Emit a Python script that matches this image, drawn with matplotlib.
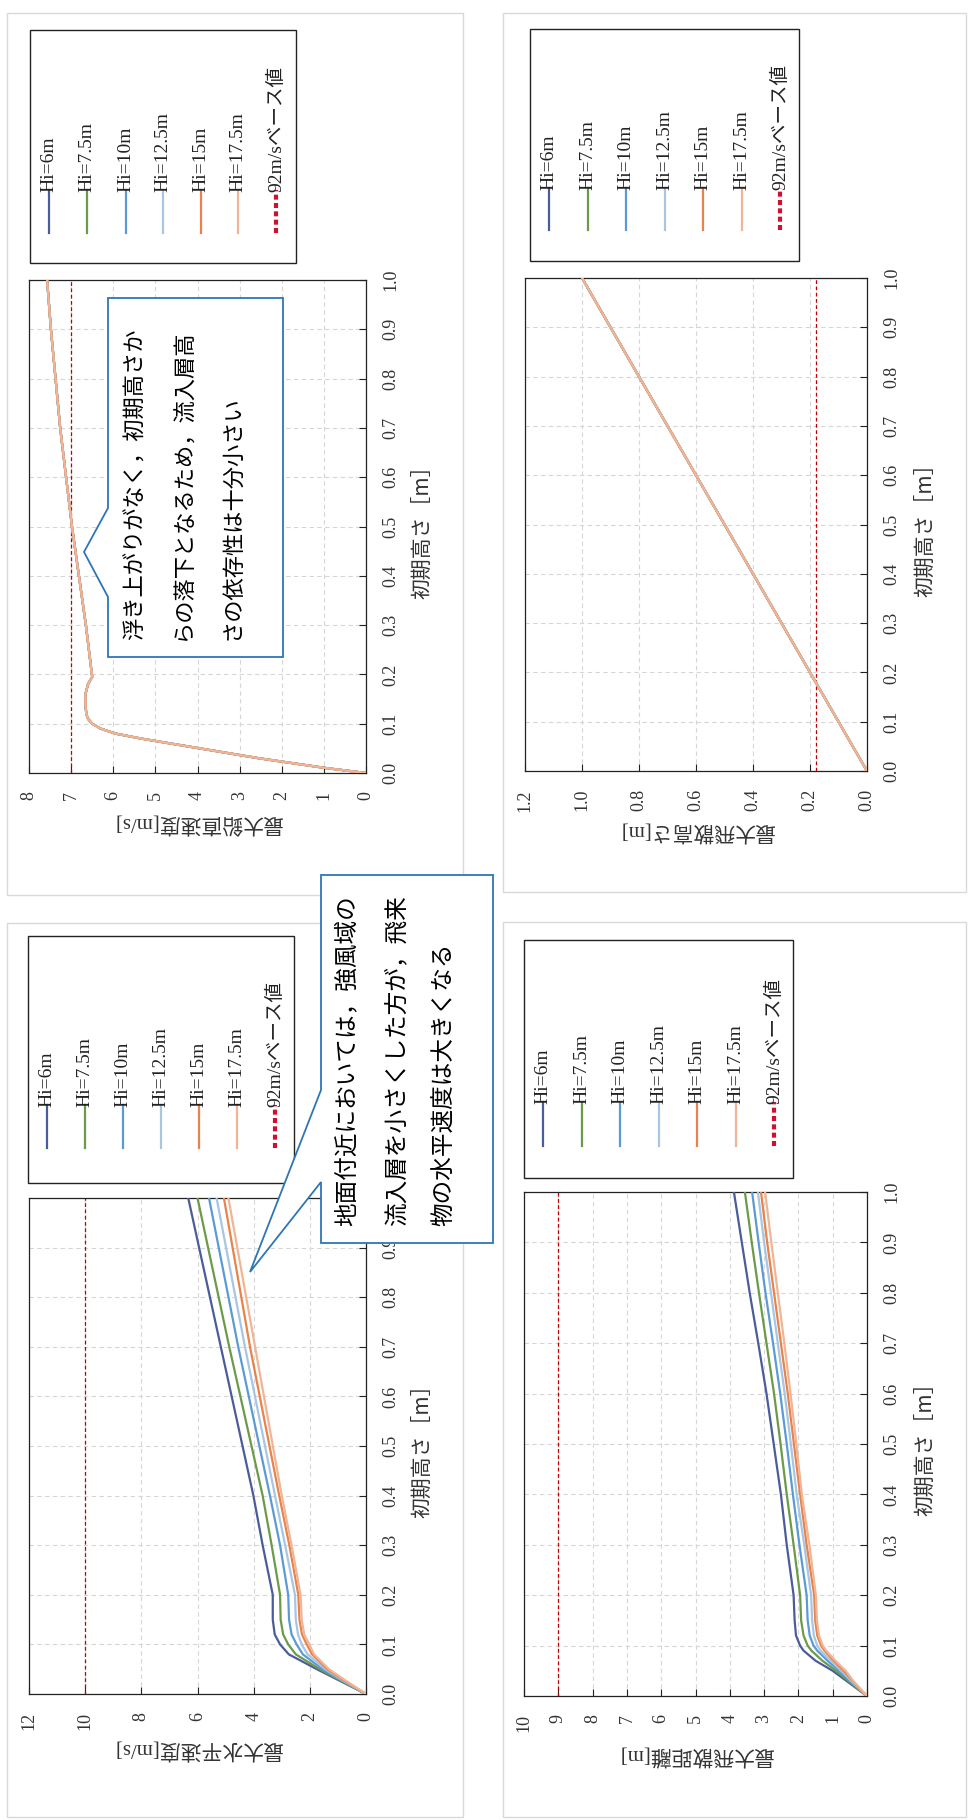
import matplotlib
matplotlib.use('Agg')
import matplotlib.pyplot as plt
from matplotlib.patches import Rectangle, Polygon
from matplotlib.lines import Line2D

W, H, DPI = 971, 1820, 100

# ---------------- data ----------------
series_labels = ['Hi=6m', 'Hi=7.5m', 'Hi=10m', 'Hi=12.5m', 'Hi=15m', 'Hi=17.5m']
base_label = '92m/sベース値'
x_label = '初期高さ［m］'

# 最大鉛直速度 (all Hi coincide)
h_vert = [0, 0.01, 0.02, 0.03, 0.04, 0.05, 0.06, 0.07, 0.08, 0.09, 0.10, 0.11,
          0.12, 0.14, 0.16, 0.18, 0.195, 0.30, 0.50, 0.70, 0.90, 1.00]
v_vert = [0, 0.95, 1.75, 2.55, 3.25, 3.95, 4.65, 5.35, 5.95, 6.30, 6.50, 6.60,
          6.64, 6.66, 6.66, 6.60, 6.50, 6.65, 6.98, 7.26, 7.48, 7.57]
base_vert = 7.0

# 最大水平速度
h_horz = [0, 0.03, 0.05, 0.08, 0.10, 0.12, 0.15, 0.20, 0.30, 0.40, 0.70, 1.00]
v_horz_6 = [0, 1.05, 1.75, 2.75, 3.06, 3.25, 3.32, 3.32, 3.68, 4.01, 5.17, 6.33]
v_horz_75 = [0, 1.00, 1.65, 2.50, 2.77, 2.95, 3.04, 3.06, 3.36, 3.68, 4.87, 6.00]
v_horz_10 = [0, 0.95, 1.55, 2.25, 2.47, 2.65, 2.74, 2.77, 3.06, 3.42, 4.55, 5.59]
v_horz_125 = [0, 0.90, 1.45, 2.08, 2.29, 2.42, 2.50, 2.53, 2.88, 3.24, 4.31, 5.32]
v_horz_15 = [0, 0.85, 1.38, 1.92, 2.11, 2.28, 2.37, 2.41, 2.73, 3.09, 4.13, 5.06]
v_horz_175 = [0, 0.80, 1.32, 1.85, 2.02, 2.20, 2.29, 2.33, 2.65, 3.00, 3.95, 4.90]
base_horz = 10.0

# 最大飛散高さ (all Hi coincide)
h_high = [0, 0.5, 1.0]
v_high = [0, 0.5, 1.0]
base_high = 0.18

# 最大飛散距離
h_dist = [0, 0.03, 0.05, 0.07, 0.09, 0.10, 0.12, 0.15, 0.20, 0.30, 0.40, 0.50,
          0.60, 0.70, 0.80, 0.90, 1.00]
v_dist_6 = [0, 0.60, 1.00, 1.50, 1.85, 1.95, 2.07, 2.11, 2.14, 2.34, 2.51, 2.72,
            2.93, 3.17, 3.42, 3.65, 3.88]
v_dist_75 = [0, 0.55, 0.90, 1.30, 1.62, 1.73, 1.85, 1.92, 1.95, 2.14, 2.34, 2.52,
             2.71, 2.93, 3.15, 3.36, 3.56]
v_dist_10 = [0, 0.50, 0.82, 1.15, 1.45, 1.56, 1.67, 1.73, 1.76, 1.97, 2.16, 2.34,
             2.53, 2.74, 2.96, 3.16, 3.35]
v_dist_125 = [0, 0.46, 0.75, 1.05, 1.35, 1.45, 1.55, 1.60, 1.63, 1.83, 2.05, 2.22,
              2.40, 2.60, 2.80, 3.00, 3.18]
v_dist_15 = [0, 0.42, 0.68, 0.97, 1.24, 1.34, 1.45, 1.51, 1.54, 1.76, 1.95, 2.13,
             2.31, 2.51, 2.71, 2.91, 3.09]
v_dist_175 = [0, 0.40, 0.62, 0.92, 1.19, 1.29, 1.40, 1.46, 1.49, 1.68, 1.90, 2.06,
              2.23, 2.41, 2.60, 2.79, 2.97]
base_dist = 9.0

height_ticks = [0.0, 0.1, 0.2, 0.3, 0.4, 0.5, 0.6, 0.7, 0.8, 0.9, 1.0]
vert_ticks = [0, 1, 2, 3, 4, 5, 6, 7, 8]
horz_ticks = [0, 2, 4, 6, 8, 10, 12]
high_ticks = [0.0, 0.2, 0.4, 0.6, 0.8, 1.0, 1.2]
dist_ticks = [0, 1, 2, 3, 4, 5, 6, 7, 8, 9, 10]

note_vert = ['浮き上がりがなく，初期高さか', 'らの落下となるため，流入層高', 'さの依存性は十分小さい']
note_horz = ['地面付近においては，強風域の', '流入層を小さくした方が，飛来', '物の水平速度は大きくなる']

# ---------------- style ----------------
series_colors = ['#4A5C9A', '#6B9A48', '#5B9BD5', '#A8C6E4', '#E8844A', '#EFB596']
base_color = '#C00000'
callout_color = '#2E75B6'
serif = ['Liberation Serif', 'Noto Sans CJK JP']
cjk = ['Noto Sans CJK JP', 'DejaVu Sans']
txt_color = '#333333'

fig = plt.figure(figsize=(W / DPI, H / DPI), dpi=DPI)
fig.patch.set_facecolor('white')


def fx(x):
    return x / W


def fy(y):
    return 1 - y / H


def frame(x0, y0, x1, y1, ec, lw, fc='none', z=1):
    fig.add_artist(Rectangle((fx(x0), fy(y1)), (x1 - x0) / W, (y1 - y0) / H,
                             transform=fig.transFigure, facecolor=fc,
                             edgecolor=ec, linewidth=lw, zorder=z))


def panel(rect, series, vmax, vticks, vfmt, base, vlabel, vlabel_y, hlabel_x,
          legend_box, legend_xs, legend_y, outer, hidden_hticks=()):
    frame(*outer, ec='#d9d9d9', lw=1.0)
    x0, y0, x1, y1 = rect
    ax = fig.add_axes([fx(x0), fy(y1), (x1 - x0) / W, (y1 - y0) / H])
    for (hs, vs), col in zip(series, series_colors):
        ax.plot(vs, hs, color=col, lw=1.6, solid_capstyle='round', zorder=3)
    ax.plot([base, base], [0, 1], color=base_color, lw=0.9,
            linestyle=(0, (3, 2)), zorder=2)
    ax.set_xlim(vmax, 0)
    ax.set_ylim(0, 1)
    ax.set_xticks(vticks)
    ax.set_xticklabels([vfmt.format(v) for v in vticks], rotation=90,
                       ha='center', va='top', fontfamily=serif, fontsize=13,
                       color=txt_color)
    ax.yaxis.tick_right()
    ax.set_yticks(height_ticks)
    ax.set_yticklabels(['' if v in hidden_hticks else '{:.1f}'.format(v)
                        for v in height_ticks], rotation=90,
                       ha='left', va='center', fontfamily=serif, fontsize=13,
                       color=txt_color)
    ax.tick_params(axis='x', direction='in', length=5, pad=13, top=False,
                   bottom=True, color='#222222')
    ax.tick_params(axis='y', direction='in', length=5, pad=12, left=False,
                   right=True, color='#222222')
    ax.grid(True, color='#d6d6d6', linestyle=(0, (4, 3)), linewidth=0.8)
    ax.set_axisbelow(True)
    for s in ax.spines.values():
        s.set_color('#222222')
        s.set_linewidth(0.9)
    cx = (x0 + x1) / 2
    cy = (y0 + y1) / 2
    fig.text(fx(cx), fy(vlabel_y), vlabel, rotation=180, ha='center',
             va='center', fontsize=15, fontfamily=serif, color=txt_color)
    fig.text(fx(hlabel_x), fy(cy), x_label, rotation=90, ha='center',
             va='center', fontsize=15, fontfamily=cjk, color=txt_color)
    # legend
    frame(*legend_box, ec='#222222', lw=1.0, fc='white', z=2)
    yb, yt = legend_y
    names = series_labels + [base_label]
    cols = series_colors + [base_color]
    for i, (lx, name, col) in enumerate(zip(legend_xs, names, cols)):
        if i < len(series_labels):
            fig.add_artist(Line2D([fx(lx), fx(lx)], [fy(yb), fy(yt)],
                                  transform=fig.transFigure, color=col,
                                  lw=1.6, zorder=3))
        else:
            fig.add_artist(Line2D([fx(lx), fx(lx)], [fy(yb), fy(yt)],
                                  transform=fig.transFigure, color='#D01030',
                                  lw=3.0, linestyle=(0, (1.2, 0.8)), zorder=3))
        fig.text(fx(lx), fy(yt + 2), name, rotation=90, ha='center',
                 va='bottom', fontsize=14, fontfamily=serif,
                 color='#222222', zorder=4)
    return ax


panel((29, 280, 366, 773), [(h_vert, v_vert)] * 6, 8, vert_ticks, '{:d}',
      base_vert, '最大鉛直速度[m/s]', 822, 422,
      (30, 30, 296, 263), [49, 87, 126, 163, 201, 238, 276], (233, 190),
      (7, 13, 463, 895))

# the 1.0 label of this panel lies under the callout in the reference
panel((29, 1198, 366, 1694),
      [(h_horz, v_horz_6), (h_horz, v_horz_75), (h_horz, v_horz_10),
       (h_horz, v_horz_125), (h_horz, v_horz_15), (h_horz, v_horz_175)],
      12, horz_ticks, '{:d}', base_horz, '最大水平速度[m/s]', 1748, 422,
      (28, 936, 294, 1183), [47, 85, 123, 161, 199, 237, 275], (1148, 1105),
      (7, 923, 463, 1817), hidden_hticks=(1.0,))

panel((525, 278, 867, 771), [(h_high, v_high)] * 6, 1.2, high_ticks, '{:.1f}',
      base_high, '最大飛散高さ[m]', 830, 925,
      (530, 29, 799, 261), [549, 588, 626, 665, 703, 742, 780], (230, 188),
      (503, 13, 966, 892))

panel((524, 1192, 867, 1696),
      [(h_dist, v_dist_6), (h_dist, v_dist_75), (h_dist, v_dist_10),
       (h_dist, v_dist_125), (h_dist, v_dist_15), (h_dist, v_dist_175)],
      10, dist_ticks, '{:d}', base_dist, '最大飛散距離[m]', 1754, 925,
      (524, 940, 793, 1178), [543, 582, 620, 659, 697, 736, 774], (1146, 1102),
      (503, 922, 966, 1817))


def callout(pts, lines, cols_x, y_start, fs):
    fig.add_artist(Polygon([(fx(x), fy(y)) for x, y in pts], closed=True,
                           transform=fig.transFigure, facecolor='white',
                           edgecolor=callout_color, linewidth=1.3, zorder=5))
    for line, cx in zip(lines, cols_x):
        fig.text(fx(cx), fy(y_start), line, rotation=90, ha='center',
                 va='bottom', fontsize=fs, fontfamily=cjk, color='black',
                 zorder=6)


callout([(108, 298), (283, 298), (283, 657), (108, 657), (108, 597),
         (84, 552), (108, 508)], note_vert, [135, 183, 232], 640, 16)
callout([(321, 875), (493, 875), (493, 1243), (321, 1243), (321, 1182),
         (250, 1272), (321, 1090)], note_horz, [347, 397, 445], 1226, 17)

fig.savefig('out.png', dpi=DPI, facecolor='white')
